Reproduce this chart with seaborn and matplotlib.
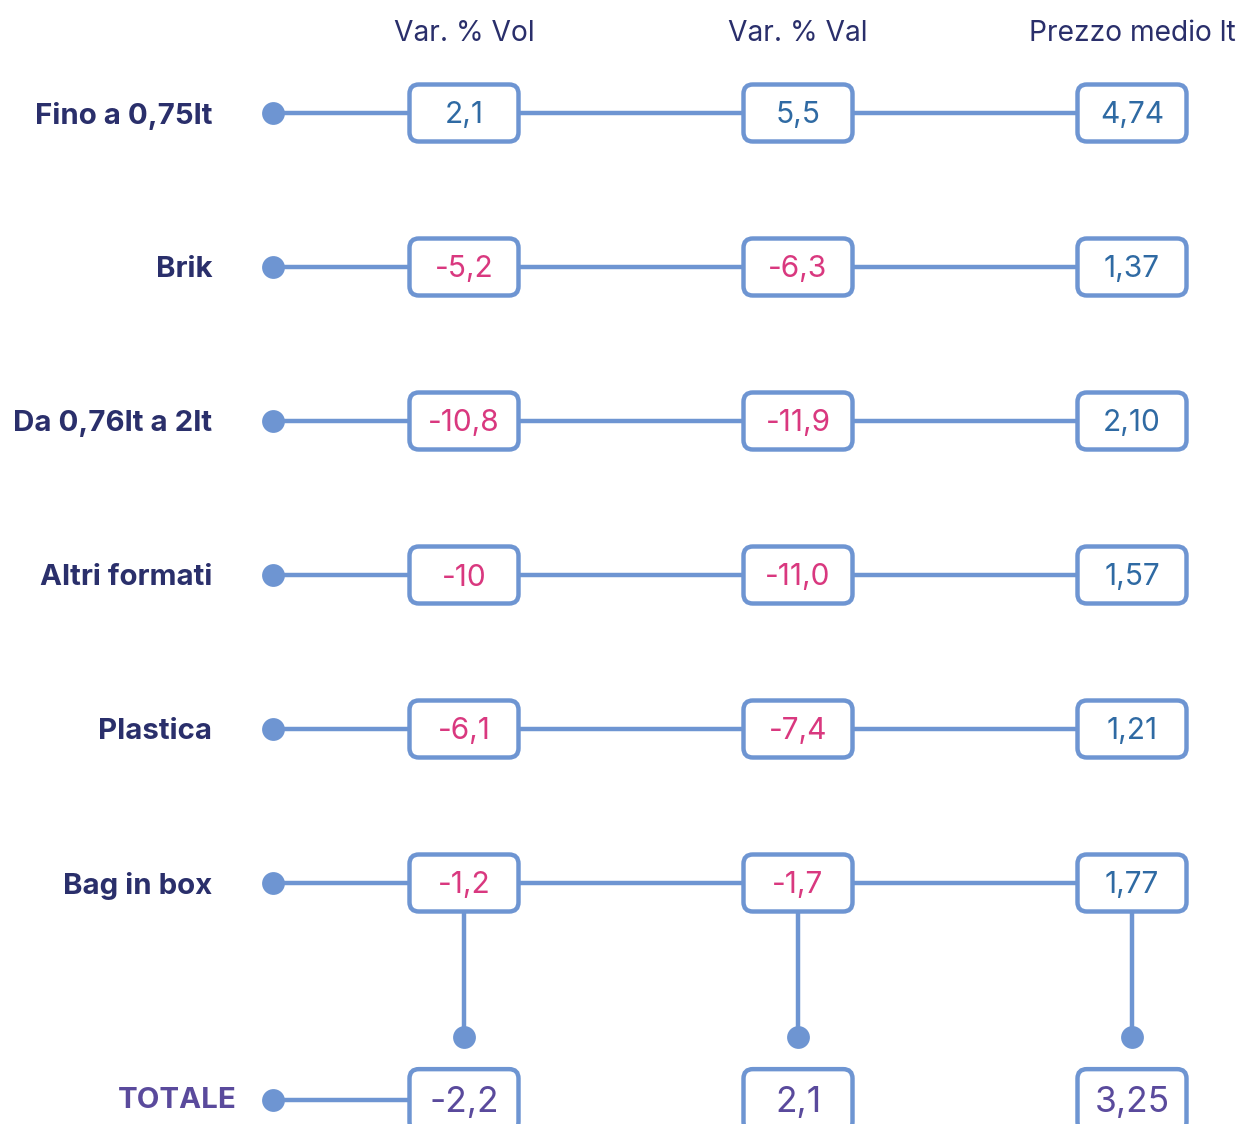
import matplotlib
matplotlib.use("Agg")
import matplotlib.pyplot as plt
import seaborn as sns
import pandas as pd
from matplotlib.patches import FancyBboxPatch

# data
categories = ['Fino a 0,75lt', 'Brik', 'Da 0,76lt a 2lt', 'Altri formati', 'Plastica', 'Bag in box']
columns = ['Var. % Vol', 'Var. % Val', 'Prezzo medio lt']
var_vol = [2.1, -5.2, -10.8, -10, -6.1, -1.2]
var_val = [5.5, -6.3, -11.9, -11.0, -7.4, -1.7]
prezzo = [4.74, 1.37, 2.10, 1.57, 1.21, 1.77]
decimals = [1, 1, 2]
totale_label = 'TOTALE'
totale = [-2.2, 2.1, 3.25]

# style
LINE = '#6e95d2'
NAVY = '#2a2f6b'
PURPLE = '#5a4a9c'
BLUE = '#2f6aa3'
PINK = '#d9387f'
FONT = ['Inter', 'DejaVu Sans']

sns.set_theme(style='white')
plt.rcParams['font.family'] = FONT

# layout in index units (1 col = 334 px, 1 row = 154 px)
COL_PX, ROW_PX = 334, 154
DOT_X = -0.572
LABEL_X = -0.754
TOT_LABEL_X = -0.68
HEADER_Y = -0.53
BOX_W, BOX_H = 109 / COL_PX, 57 / ROW_PX
TOT_BOX_H = 62 / ROW_PX
CONN_Y = 6.0
TOT_Y = 6.41
TXT_DY = 2.5 / ROW_PX


def fmt(v, d):
    if isinstance(v, int):
        return str(v)
    return f"{v:.{d}f}".replace('.', ',')


fig = plt.figure(figsize=(12.48, 11.24), dpi=100)
ax = fig.add_axes([0, 0, 1, 1])
ax.set_xlim(-464 / COL_PX, (1248 - 464) / COL_PX)
ax.set_ylim((1124 - 113) / ROW_PX, -113 / ROW_PX)
ax.axis('off')

series = [var_vol, var_val, prezzo]
n = len(categories)

# row lines
for i in range(n):
    ax.plot([DOT_X, len(columns) - 1], [i, i], color=LINE, lw=3.2, zorder=1,
            solid_capstyle='butt')
ax.plot([DOT_X, 0], [TOT_Y, TOT_Y], color=LINE, lw=3.2, zorder=1)

# vertical connectors from last row to totale dots
for j in range(len(columns)):
    ax.plot([j, j], [n - 1, CONN_Y], color=LINE, lw=3.2, zorder=1)

dots = pd.DataFrame({
    'x': [DOT_X] * n + [DOT_X] + list(range(len(columns))),
    'y': list(range(n)) + [TOT_Y] + [CONN_Y] * len(columns),
})
sns.scatterplot(data=dots, x='x', y='y', s=270, color=LINE, edgecolor=LINE,
                linewidth=0, ax=ax, zorder=3, legend=False)
ax.set_xlabel('')
ax.set_ylabel('')


def box(x, y, h, text, color, size):
    p = FancyBboxPatch((x - BOX_W / 2, y - h / 2), BOX_W, h,
                       boxstyle='round,pad=0,rounding_size=0.028',
                       mutation_aspect=COL_PX / ROW_PX,
                       facecolor='white', edgecolor=LINE, lw=3.2, zorder=4)
    ax.add_patch(p)
    ax.text(x, y + TXT_DY, text, ha='center', va='center', color=color,
            fontsize=size, zorder=5, family=FONT)


for j, col in enumerate(columns):
    ax.text(j, HEADER_Y + TXT_DY, col, ha='center', va='center', color=NAVY,
            fontsize=20.3)
    for i in range(n):
        v = series[j][i]
        box(j, i, BOX_H, fmt(v, decimals[j]), PINK if v < 0 else BLUE, 21.5)
    box(j, TOT_Y, TOT_BOX_H, fmt(totale[j], decimals[j]), PURPLE, 25.5)

for i, cat in enumerate(categories):
    ax.text(LABEL_X, i + TXT_DY, cat, ha='right', va='center', color=NAVY,
            fontsize=21.2, fontweight='bold')
ax.text(TOT_LABEL_X, TOT_Y, totale_label, ha='right', va='center',
        color=PURPLE, fontsize=21.2, fontweight='bold')

fig.savefig('out.png', dpi=100, facecolor='white')
